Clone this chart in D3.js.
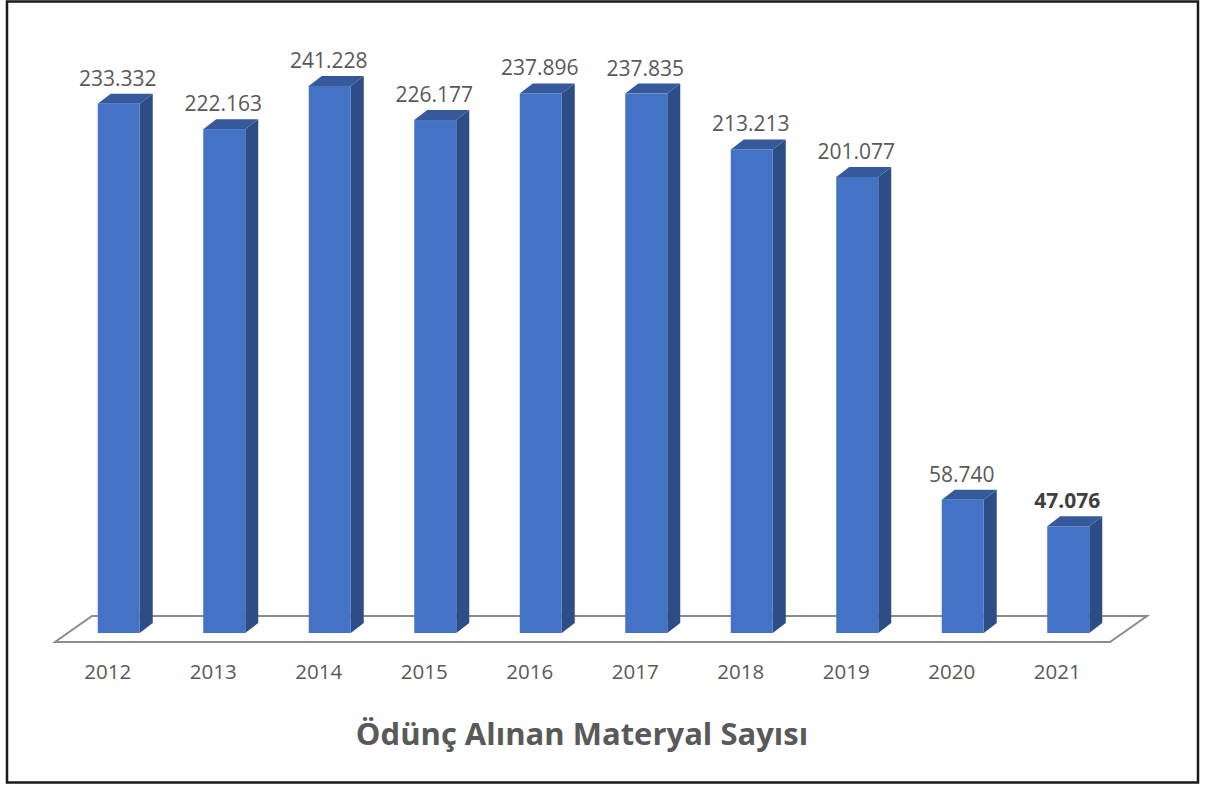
<!DOCTYPE html>
<html><head><meta charset="utf-8">
<script src="https://cdn.jsdelivr.net/npm/d3@7"></script>
<style>
html,body{margin:0;padding:0;background:#fff;}
svg{display:block;}
</style></head>
<body>
<svg id="chart" width="1216" height="786"></svg>
<script>
const years = ["2012","2013","2014","2015","2016","2017","2018","2019","2020","2021"];
const values = [233332, 222163, 241228, 226177, 237896, 237835, 213213, 201077, 58740, 47076];
const boldYears = ["2021"];
const chartTitle = "Ödünç Alınan Materyal Sayısı";

const svg = d3.select("#chart");

// outer border
svg.append("rect").attr("x",7).attr("y",1.5).attr("width",1191).attr("height",781)
  .attr("fill","#fff").attr("stroke","#1a1a1a").attr("stroke-width",2.5);

const floorFrontY = 642;
const floorDepth = {dx:37, dy:-26};
const x = d3.scaleBand().domain(years).range([55,1110]).paddingInner(0).paddingOuter(0);
const barFront = {dx:11, dy:-9};
const barDepth = {dx:13, dy:-10};
const barW = 42;
const baseY = floorFrontY + barFront.dy; // 633
const y = d3.scaleLinear().domain([0,250000]).range([baseY, baseY - 567]);

// floor
const floorPts = [
  [x.range()[0], floorFrontY],
  [x.range()[1], floorFrontY],
  [x.range()[1]+floorDepth.dx, floorFrontY+floorDepth.dy],
  [x.range()[0]+floorDepth.dx, floorFrontY+floorDepth.dy]
];
svg.append("path").attr("d", d3.line()(floorPts)+"Z")
  .attr("fill","#fff").attr("stroke","#8c8c8c").attr("stroke-width",2);

const data = years.map((yr,i)=>({year:yr, value:values[i]}));
const fmt = d3.formatLocale({decimal:",", thousands:".", grouping:[3], currency:["","₺"]}).format(",d");

const g = svg.append("g");
data.forEach(d=>{
  const cx = x(d.year) + x.bandwidth()/2 + barFront.dx;
  const x0 = cx - barW/2, x1 = cx + barW/2;
  const yt = y(d.value), yb = y(0);
  const dx = barDepth.dx, dy = barDepth.dy;
  g.append("path").attr("d", d3.line()([[x1,yb],[x1,yt],[x1+dx,yt+dy],[x1+dx,yb+dy]])+"Z")
    .attr("fill","#2c4d85");
  g.append("path").attr("d", d3.line()([[x0,yt],[x1,yt],[x1+dx,yt+dy],[x0+dx,yt+dy]])+"Z")
    .attr("fill","#35599b");
  g.append("rect").attr("x",x0).attr("y",yt).attr("width",barW).attr("height",yb-yt)
    .attr("fill","#4472c4");
  const bold = boldYears.includes(d.year);
  g.append("text").attr("x",cx-1).attr("y",yt+dy-8)
    .attr("text-anchor","middle")
    .attr("font-family","'Open Sans', sans-serif")
    .attr("font-size",21)
    .attr("font-weight", bold?700:400)
    .attr("fill", bold?"#404040":"#595959")
    .text(fmt(d.value));
});

// x axis labels
const axis = d3.axisBottom(x).tickSize(0).tickPadding(0);
const ax = svg.append("g").attr("transform",`translate(0,${floorFrontY})`).call(axis);
ax.select(".domain").remove();
ax.selectAll("text").attr("y",37).attr("dy",0)
  .attr("font-family","'Open Sans', sans-serif").attr("font-size",20.5).attr("fill","#595959");

// title
svg.append("text").attr("x",582).attr("y",745).attr("text-anchor","middle")
  .attr("font-family","'Open Sans', sans-serif").attr("font-weight",700)
  .attr("font-size",31).attr("fill","#595959").text(chartTitle);
</script>
</body></html>
